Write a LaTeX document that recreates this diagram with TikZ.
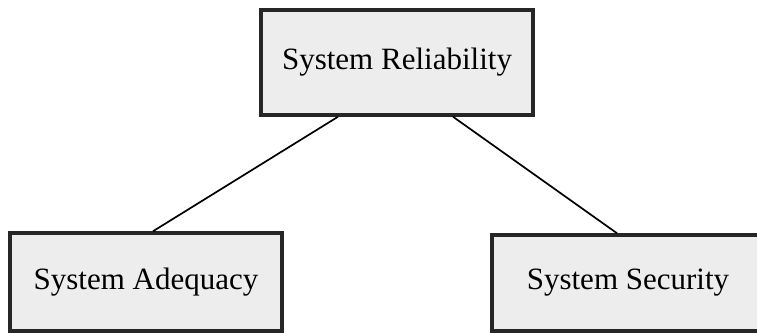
\documentclass[tikz,border=0pt]{standalone}
\usepackage{fontspec}
\setmainfont{Liberation Serif}
\usetikzlibrary{calc}
\begin{document}
\begin{tikzpicture}[x=1pt,y=-1pt,
  boxnode/.style={draw=black!85, line width=3.5pt, fill=black!7, inner sep=0pt,
    minimum width=272pt, font=\fontsize{31}{36}\selectfont},
  link/.style={draw=black, line width=1.7pt}]
\useasboundingbox (0,0) rectangle (757,332);
\clip (0,0) rectangle (757,332);
\node[boxnode, minimum height=105pt] (rel) at (397,62.5) {\raisebox{4.5pt}{System Reliability}};
\node[boxnode, minimum height=98pt] (ade) at (146,282) {\raisebox{7pt}{System Adequacy}};
\node[boxnode, minimum height=96pt] (sec) at (628,283) {\raisebox{5pt}{System Security}};
\draw[link] ([xshift=-59pt]rel.south) -- ([xshift=7pt]ade.north);
\draw[link] ([xshift=56pt]rel.south) -- ([xshift=-11pt]sec.north);
\end{tikzpicture}
\end{document}
